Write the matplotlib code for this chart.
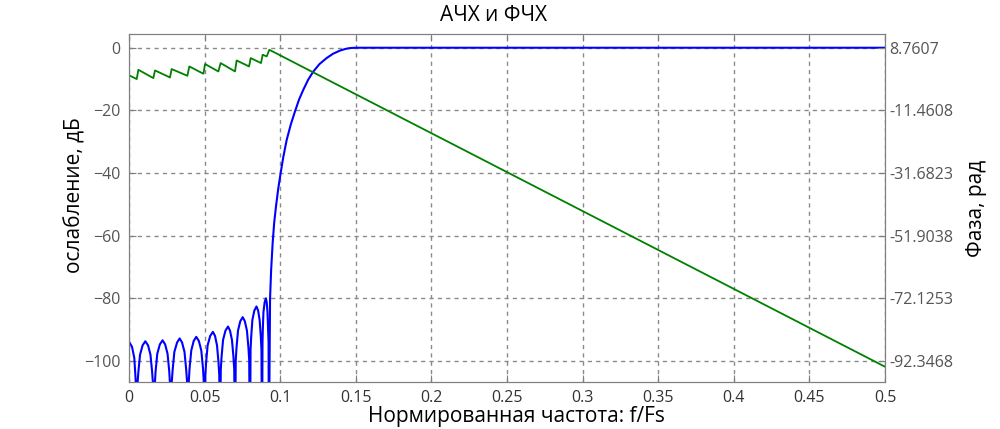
import numpy as np
import matplotlib
matplotlib.use("Agg")
import matplotlib.pyplot as plt

plt.rcParams['font.family'] = ['Open Sans', 'DejaVu Sans']

# АЧХ: нормированная частота и ослабление, дБ
f_mag = [0.0, 0.0020, 0.0035, 0.0044, 0.0050,
         0.0056, 0.0062, 0.0073, 0.0090, 0.0108, 0.0126, 0.0142, 0.0153, 0.0159, 0.0165,
         0.0171, 0.0176, 0.0187, 0.0204, 0.0222, 0.0239, 0.0255, 0.0266, 0.0271, 0.0277,
         0.0283, 0.0289, 0.0300, 0.0318, 0.0335, 0.0351, 0.0367, 0.0378, 0.0384, 0.0390,
         0.0396, 0.0401, 0.0412, 0.0428, 0.0445, 0.0462, 0.0478, 0.0489, 0.0494, 0.0500,
         0.0505, 0.0510, 0.0520, 0.0537, 0.0555, 0.0569, 0.0582, 0.0592, 0.0597, 0.0602,
         0.0607, 0.0612, 0.0622, 0.0638, 0.0655, 0.0668, 0.0681, 0.0691, 0.0696, 0.0701,
         0.0706, 0.0711, 0.0721, 0.0736, 0.0752, 0.0766, 0.0780, 0.0790, 0.0795, 0.0800,
         0.0804, 0.0808, 0.0816, 0.0829, 0.0843, 0.0854, 0.0864, 0.0872, 0.0876, 0.0880,
         0.0883, 0.0885, 0.0889, 0.0897, 0.0905, 0.0911, 0.0916, 0.0920, 0.0923, 0.0925,
         0.0933, 0.0940, 0.0950, 0.0960, 0.0972, 0.0987, 0.1003, 0.1020, 0.1043,
         0.1070, 0.1098, 0.1125, 0.1153, 0.1185, 0.1219, 0.1260, 0.1307, 0.1350,
         0.1396, 0.1430, 0.1462, 0.1500, 0.5000]
mag_db = [-93.8, -95.5, -99.0, -106.0, -130.0,
          -107.5, -103.5, -98.0, -95.0, -93.7, -95.0, -98.0, -103.5, -107.5, -130.0,
          -107.2, -103.2, -97.7, -94.7, -93.4, -94.7, -97.7, -103.2, -107.2, -130.0,
          -106.6, -102.6, -97.1, -94.1, -92.8, -94.1, -97.1, -102.6, -106.6, -130.0,
          -106.1, -102.1, -96.6, -93.6, -92.3, -93.6, -96.6, -102.1, -106.1, -130.0,
          -104.5, -100.5, -95.0, -92.0, -90.7, -92.0, -95.0, -100.5, -104.5, -130.0,
          -102.8, -98.8, -93.3, -90.3, -89.0, -90.3, -93.3, -98.8, -102.8, -130.0,
          -99.8, -95.8, -90.3, -87.3, -86.0, -87.3, -90.3, -95.8, -99.8, -130.0,
          -96.4, -92.4, -86.9, -83.9, -82.6, -83.9, -86.9, -92.4, -96.4, -130.0,
          -94.0, -90.0, -84.5, -81.3, -80.0, -81.3, -84.5, -90.0, -94.0, -130.0,
          -80.0, -71.0, -62.4, -56.0, -50.7, -45.0, -40.0, -35.0, -29.4,
          -24.5, -20.3, -16.5, -13.4, -10.2, -7.6, -5.2, -3.3, -1.9,
          -0.9, -0.4, -0.1, 0.0, 0.0]

# ФЧХ: фаза, рад
f_ph = [0.0007, 0.0051, 0.0062, 0.0161, 0.0172, 0.0271, 0.0282, 0.0386, 0.0399,
        0.0492, 0.0503, 0.0591, 0.0606, 0.0701, 0.0712, 0.0794, 0.0805, 0.0873,
        0.0884, 0.0911, 0.0928, 0.5000]
phase = [-0.29, -1.35, 1.65, -1.04, 1.44, -0.83, 1.88, -0.29, 2.72,
         0.37, 3.50, 1.11, 3.81, 1.11, 4.66, 2.72, 5.43, 3.81,
         6.50, 5.96, 8.11, -94.2]

x_ticks = [0, 0.05, 0.1, 0.15, 0.2, 0.25, 0.3, 0.35, 0.4, 0.45, 0.5]
x_labels = ['0', '0.05', '0.1', '0.15', '0.2', '0.25', '0.3', '0.35', '0.4', '0.45', '0.5']
db_ticks = [0, -20, -40, -60, -80, -100]
ph_ticks = [8.7607, -11.4608, -31.6823, -51.9038, -72.1253, -92.3468]
ph_labels = ['8.7607', '-11.4608', '-31.6823', '-51.9038', '-72.1253', '-92.3468']

frame = '#7f7f7f'

fig = plt.figure(figsize=(10, 4.29), dpi=100)
ax = fig.add_axes([0.129, 0.1096, 0.756, 0.8111])

ax.plot(f_mag, mag_db, color='#0000ff', lw=1.5)
ax.set_xlim(0, 0.5)
db_lim = (-106.7, 4.38)
ax.set_ylim(*db_lim)
ax.set_xticks(x_ticks)
ax.set_xticklabels(x_labels)
ax.set_yticks(db_ticks)
ax.grid(True, color='#8a8a8a', linestyle=(0, (3, 3)), lw=1)
ax.tick_params(direction='in', length=5, color=frame, top=True, labelsize=11.5)
ax.tick_params(axis='x', labelcolor='#333333', pad=6)
ax.tick_params(axis='y', labelcolor='#555555', pad=6)
for s in ax.spines.values():
    s.set_color(frame)

# правая ось фазы привязана к левой шкале
k = (ph_ticks[0] - ph_ticks[-1]) / (db_ticks[0] - db_ticks[-1])
ax2 = ax.twinx()
ax2.plot(f_ph, phase, color='#008000', lw=1.3)
ax2.set_ylim(ph_ticks[0] + k * db_lim[0], ph_ticks[0] + k * db_lim[1])
ax2.set_yticks(ph_ticks)
ax2.set_yticklabels(ph_labels)
ax2.tick_params(direction='in', length=5, color=frame, labelsize=11.5,
                labelcolor='#555555', pad=3)
for s in ax2.spines.values():
    s.set_color(frame)

fig.text(0.494, 0.964, 'АЧХ и ФЧХ', ha='center', va='center', fontsize=15)
ax.set_xlabel('Нормированная частота: f/Fs', fontsize=15)
ax.xaxis.set_label_coords(0.512, -0.07)
ax.set_ylabel('ослабление, дБ', fontsize=15)
ax.yaxis.set_label_coords(-0.058, 0.537)
ax2.set_ylabel('Фаза, рад', fontsize=15, labelpad=9)

fig.savefig('out.png', dpi=100)
